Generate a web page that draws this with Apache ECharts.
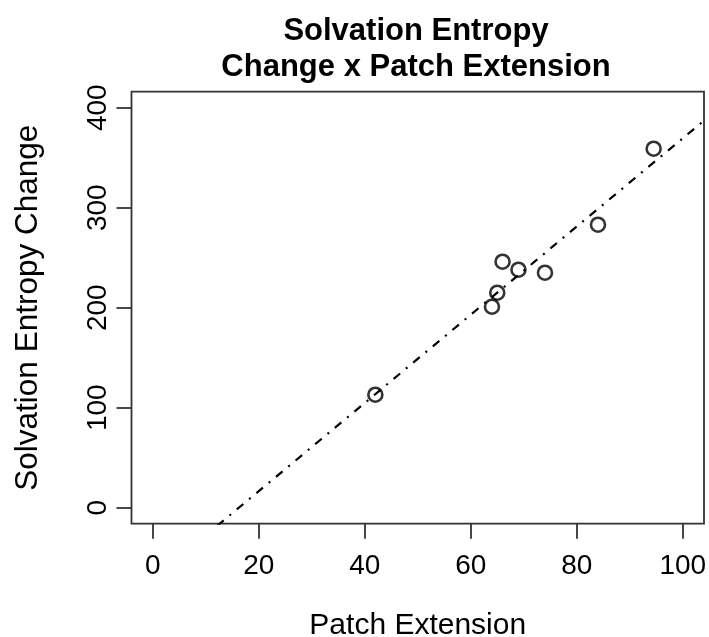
<!DOCTYPE html>
<html>
<head>
<meta charset="utf-8">
<script src="https://cdn.jsdelivr.net/npm/echarts@6/dist/echarts.min.js"></script>
<style>
html,body{margin:0;padding:0;background:#fff;}
#chart{width:709px;height:637px;}
</style>
</head>
<body>
<div id="chart"></div>
<script>
var patchExtension = [42, 64, 65, 66, 69, 74, 84, 94.5];
var solvationEntropy = [113, 201, 215, 246, 238, 235, 283, 359];
var xTicks = [0, 20, 40, 60, 80, 100];
var yTicks = [0, 100, 200, 300, 400];

// least-squares fit line (as drawn by abline(lm(...)))
function fit(xs, ys) {
  var n = xs.length, mx = 0, my = 0, sxy = 0, sxx = 0;
  for (var i = 0; i < n; i++) { mx += xs[i]; my += ys[i]; }
  mx /= n; my /= n;
  for (var j = 0; j < n; j++) { sxy += (xs[j]-mx)*(ys[j]-my); sxx += (xs[j]-mx)*(xs[j]-mx); }
  var b = sxy / sxx;
  return { a: my - b*mx, b: b };
}
var f = fit(patchExtension, solvationEntropy);
var xMin = -4, xMax = 104, yMin = -16, yMax = 416;
var fitLine = [[xMin, f.a + f.b*xMin], [xMax, f.a + f.b*xMax]];

var points = patchExtension.map(function (x, i) { return [x, solvationEntropy[i]]; });

var FONT = 'Liberation Sans';
var chart = echarts.init(document.getElementById('chart'), null, {renderer: 'canvas'});
chart.setOption({
  animation: false,
  backgroundColor: '#fff',
  title: {
    text: 'Solvation Entropy\nChange x Patch Extension',
    left: 411, top: 8, textAlign: 'center',
    textStyle: { fontFamily: FONT, fontWeight: 'bold', fontSize: 31, lineHeight: 36, color: '#000' }
  },
  grid: {
    left: 131.5, right: 5, top: 91.7, bottom: 113.3,
    containLabel: false, outerBoundsMode: 'none',
    show: true, borderColor: '#333', borderWidth: 1.8, backgroundColor: 'transparent'
  },
  xAxis: {
    type: 'value', min: xMin, max: xMax,
    name: 'Patch Extension', nameLocation: 'middle', nameGap: 87,
    nameTextStyle: { fontFamily: FONT, fontSize: 30, color: '#000' },
    axisLine: { show: false, onZero: false },
    splitLine: { show: false },
    axisTick: { show: true, inside: false, length: 15, lineStyle: { color: '#333', width: 1.8 }, customValues: xTicks },
    axisLabel: { fontFamily: FONT, fontSize: 28, color: '#000', margin: 29, customValues: xTicks }
  },
  yAxis: {
    type: 'value', min: yMin, max: yMax,
    name: 'Solvation Entropy Change', nameLocation: 'middle', nameGap: 87,
    nameTextStyle: { fontFamily: FONT, fontSize: 31.5, color: '#000' },
    axisLine: { show: false, onZero: false },
    splitLine: { show: false },
    axisTick: { show: true, inside: false, length: 15, lineStyle: { color: '#333', width: 1.8 }, customValues: yTicks },
    axisLabel: { fontFamily: FONT, fontSize: 28, color: '#000', margin: 19, rotate: 90, customValues: yTicks }
  },
  series: [
    {
      type: 'line', data: fitLine, clip: true, symbol: 'none',
      lineStyle: { color: '#000', width: 2.2, type: [2, 7.5, 8.5, 7.5], cap: 'butt' },
      z: 2
    },
    {
      type: 'scatter', data: points, symbol: 'circle', symbolSize: 14,
      itemStyle: { color: 'rgba(0,0,0,0)', borderColor: '#000', borderWidth: 2.6 },
      z: 3
    }
  ]
});
</script>
</body>
</html>
